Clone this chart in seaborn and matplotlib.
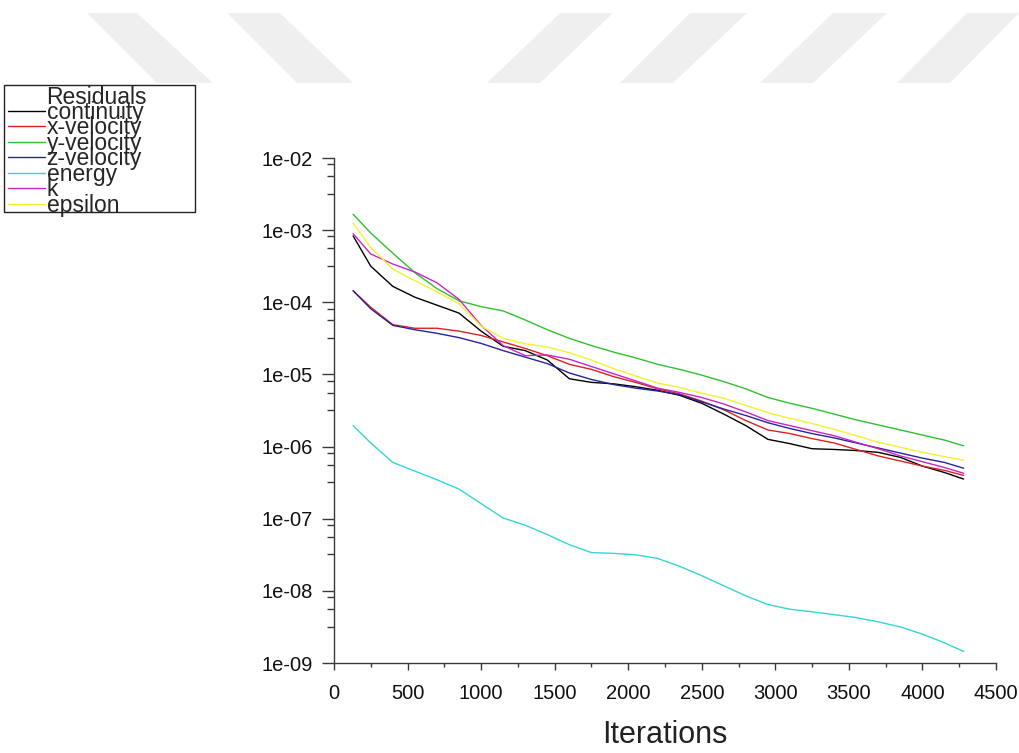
import numpy as np
import pandas as pd
import matplotlib
matplotlib.use("Agg")
import matplotlib.pyplot as plt
import seaborn as sns
from matplotlib.lines import Line2D
from matplotlib.patches import Polygon, Rectangle
from matplotlib.ticker import FixedLocator, LogLocator, MultipleLocator, FuncFormatter, NullFormatter

# Iteration count at each sampled residual value
iterations = [130, 250, 400, 550, 700, 850, 1000, 1150, 1300, 1450, 1600, 1750, 1900, 2050,
              2200, 2350, 2500, 2650, 2800, 2950, 3100, 3250, 3400, 3550, 3700, 3850, 4000,
              4150, 4280]

# Scaled residuals, stored as base-10 exponents
continuity_exp = [-3.08, -3.50, -3.78, -3.93, -4.04, -4.15, -4.40, -4.61, -4.67, -4.80, -5.06,
                  -5.11, -5.13, -5.17, -5.22, -5.29, -5.40, -5.55, -5.71, -5.90, -5.96, -6.03,
                  -6.04, -6.055, -6.08, -6.15, -6.27, -6.36, -6.45]
x_velocity_exp = [-3.84, -4.07, -4.31, -4.36, -4.36, -4.40, -4.46, -4.55, -4.64, -4.74, -4.86,
                  -4.93, -5.03, -5.11, -5.20, -5.27, -5.37, -5.49, -5.64, -5.77, -5.82, -5.89,
                  -5.95, -6.04, -6.13, -6.20, -6.27, -6.33, -6.40]
y_velocity_exp = [-2.78, -3.04, -3.32, -3.59, -3.81, -3.98, -4.06, -4.12, -4.245, -4.38, -4.50,
                  -4.60, -4.69, -4.77, -4.86, -4.93, -5.01, -5.10, -5.20, -5.32, -5.40, -5.47,
                  -5.55, -5.63, -5.70, -5.77, -5.84, -5.91, -5.99]
z_velocity_exp = [-3.84, -4.09, -4.32, -4.38, -4.43, -4.49, -4.57, -4.67, -4.76, -4.85, -4.98,
                  -5.07, -5.14, -5.19, -5.23, -5.28, -5.38, -5.48, -5.57, -5.67, -5.75, -5.82,
                  -5.88, -5.95, -6.02, -6.09, -6.16, -6.22, -6.30]
energy_exp = [-5.71, -5.95, -6.22, -6.34, -6.46, -6.59, -6.79, -6.99, -7.09, -7.22, -7.36,
              -7.47, -7.48, -7.50, -7.55, -7.66, -7.79, -7.93, -8.07, -8.19, -8.255, -8.29,
              -8.33, -8.37, -8.43, -8.50, -8.60, -8.72, -8.84]
k_exp = [-3.05, -3.33, -3.47, -3.58, -3.73, -3.96, -4.32, -4.60, -4.74, -4.73, -4.79, -4.89,
         -4.99, -5.09, -5.19, -5.25, -5.32, -5.41, -5.52, -5.64, -5.71, -5.78, -5.85, -5.94,
         -6.03, -6.13, -6.21, -6.29, -6.37]
epsilon_exp = [-2.905, -3.24, -3.54, -3.70, -3.855, -4.02, -4.33, -4.50, -4.575, -4.62, -4.70,
               -4.80, -4.92, -5.02, -5.12, -5.18, -5.26, -5.33, -5.43, -5.53, -5.61, -5.68,
               -5.76, -5.85, -5.94, -6.01, -6.08, -6.14, -6.19]

residual_names = ["continuity", "x-velocity", "y-velocity", "z-velocity", "energy", "k", "epsilon"]
residual_colors = ["#000000", "#e02020", "#30c030", "#25259a", "#35d5d5", "#c825c8", "#f2f230"]
y_ticks = [1e-9, 1e-8, 1e-7, 1e-6, 1e-5, 1e-4, 1e-3, 1e-2]
x_ticks = [0, 500, 1000, 1500, 2000, 2500, 3000, 3500, 4000, 4500]

series = [continuity_exp, x_velocity_exp, y_velocity_exp, z_velocity_exp, energy_exp, k_exp, epsilon_exp]
df = pd.concat(
    [pd.DataFrame({"Iterations": iterations, "residual": 10.0 ** np.array(e), "equation": n})
     for n, e in zip(residual_names, series)],
    ignore_index=True,
)

sns.set_style("ticks")
plt.rcParams["font.family"] = ["Liberation Sans", "DejaVu Sans"]

W, H = 1019, 753
fig = plt.figure(figsize=(W / 100, H / 100), dpi=100)


def fig_xy(px, py):
    return px / W, 1 - py / H


# faint diagonal bands along the top of the page
bands = [
    [(87, 13), (137, 13), (213, 83), (157, 83)],
    [(227, 13), (280, 13), (353, 83), (297, 83)],
    [(560, 13), (613, 13), (540, 83), (487, 83)],
    [(690, 13), (747, 13), (673, 83), (620, 83)],
    [(833, 13), (887, 13), (813, 83), (760, 83)],
    [(967, 13), (1019, 13), (950, 83), (897, 83)],
]
for b in bands:
    fig.patches.append(Polygon([fig_xy(x, y) for x, y in b], closed=True,
                               transform=fig.transFigure, facecolor="#efefef",
                               edgecolor="none", zorder=0))

ax = fig.add_axes([0.32777, 0.11952, 0.64966, 0.67065])
palette = dict(zip(residual_names, residual_colors))
sns.lineplot(data=df, x="Iterations", y="residual", hue="equation", hue_order=residual_names,
             palette=palette, linewidth=1.0, legend=False, ax=ax)

ax.set_yscale("log")
ax.set_xlim(0, 4500)
ax.set_ylim(1e-9, 1e-2)
ax.yaxis.set_major_locator(FixedLocator(y_ticks))
ax.yaxis.set_minor_locator(LogLocator(base=10, subs=(3.2, 5.6, 8.2)))
ax.yaxis.set_major_formatter(FuncFormatter(lambda v, _: f"{v:.0e}"))
ax.yaxis.set_minor_formatter(NullFormatter())
ax.xaxis.set_major_locator(FixedLocator(x_ticks))
ax.xaxis.set_minor_locator(MultipleLocator(250))

for side in ("top", "right"):
    ax.spines[side].set_visible(False)
for side in ("left", "bottom"):
    ax.spines[side].set_color("#3a3a3a")
    ax.spines[side].set_linewidth(1.0)

ax.tick_params(axis="both", which="both", left=True, bottom=True, top=False, right=False)
ax.tick_params(axis="y", which="major", direction="out", length=8.5, width=1.0,
               color="#3a3a3a", labelsize=14.5, pad=7, labelcolor="#111111")
ax.tick_params(axis="y", which="minor", direction="out", length=5, width=1.0, color="#3a3a3a")
ax.tick_params(axis="x", which="major", direction="out", length=5, width=1.0,
               color="#3a3a3a", labelsize=14.5, pad=10, labelcolor="#111111")
ax.tick_params(axis="x", which="minor", direction="out", length=3, width=1.0, color="#3a3a3a")
ax.set_ylabel("")
ax.set_xlabel("Iterations", fontsize=22, color="#222222", labelpad=12)

# legend: an empty first handle carries the "Residuals" heading in the text column
handles = [Line2D([], [], color="none")] + [Line2D([], [], color=c, linewidth=1.0) for c in residual_colors]
labels = ["Residuals"] + residual_names
leg = ax.legend(handles, labels, loc="upper left", bbox_to_anchor=fig_xy(3, 81),
                bbox_transform=fig.transFigure, borderaxespad=0, fontsize=16.5,
                labelspacing=-0.33, handlelength=1.65, handletextpad=0.05, borderpad=0.2,
                frameon=False)
fig.patches.append(Rectangle(fig_xy(4, 212), 191 / W, 127 / H, transform=fig.transFigure,
                             fill=False, edgecolor="#222222", linewidth=1.0, zorder=5))

fig.savefig("out.png", dpi=100)
